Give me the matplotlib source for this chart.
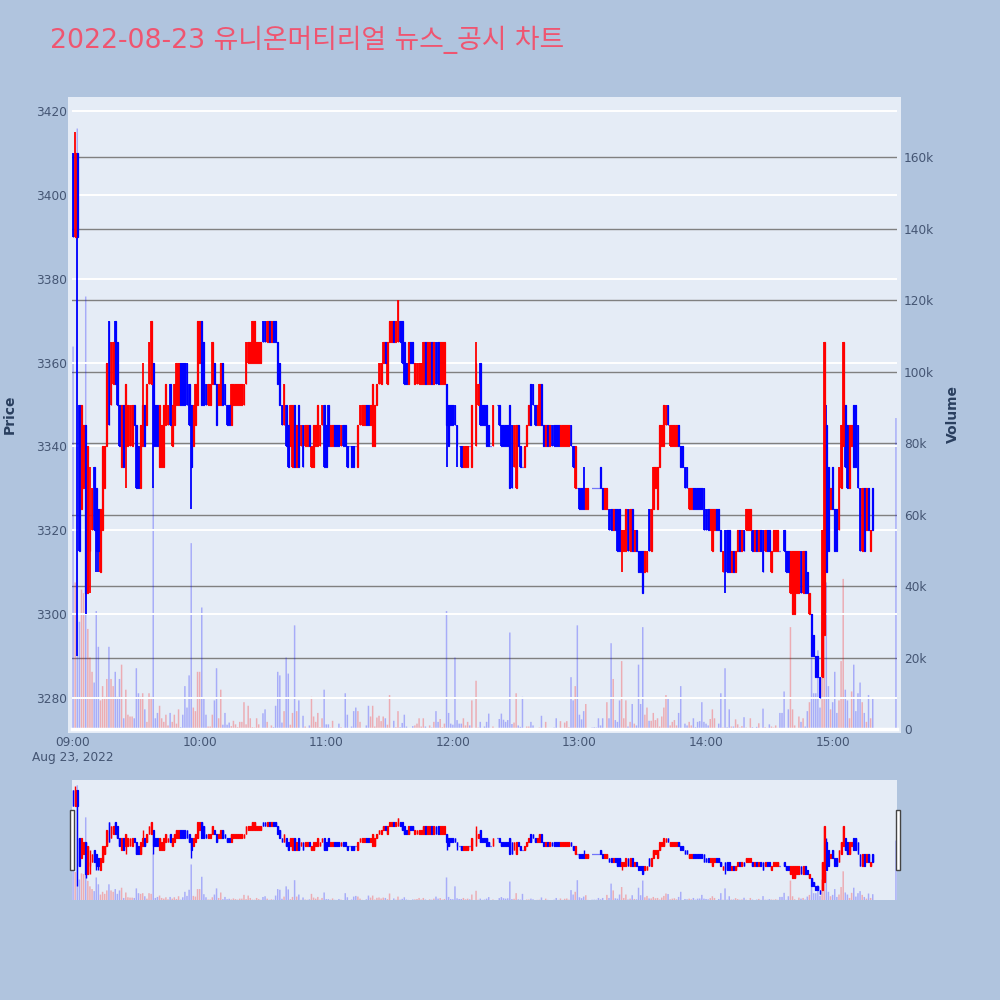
from matplotlib.patches import Rectangle
import matplotlib.pyplot as plt
import numpy as np

plt.rcParams['font.family'] = ['DejaVu Sans', 'Noto Sans CJK KR']

# one candle per minute from 09:00
opens = [
    3410, 3390, 3410, 3350, 3325, 3330, 3345, 3305, 3315, 3320,
    3335, 3330, 3325, 3310, 3320, 3330, 3340, 3370, 3350, 3355,
    3370, 3365, 3350, 3335, 3350, 3340, 3340, 3340, 3340, 3350,
    3345, 3340, 3330, 3340, 3350, 3345, 3355, 3355, 3360, 3350,
    3350, 3335, 3335, 3335, 3345, 3345, 3355, 3340, 3345, 3350,
    3350, 3360, 3360, 3360, 3360, 3355, 3350, 3340, 3345, 3350,
    3360, 3370, 3365, 3355, 3350, 3350, 3355, 3360, 3355, 3350,
    3350, 3360, 3355, 3350, 3350, 3345, 3350, 3350, 3350, 3350,
    3350, 3350, 3355, 3360, 3360, 3360, 3360, 3360, 3360, 3360,
    3370, 3370, 3365, 3370, 3365, 3370, 3370, 3365, 3360, 3350,
    3345, 3350, 3345, 3340, 3335, 3350, 3335, 3350, 3340, 3345,
    3340, 3340, 3345, 3335, 3335, 3340, 3340, 3340, 3345, 3350,
    3345, 3350, 3340, 3340, 3345, 3345, 3345, 3340, 3345, 3345,
    3340, 3340, 3340, 3340, 3340, 3335, 3345, 3345, 3345, 3350,
    3350, 3345, 3340, 3340, 3350, 3355, 3355, 3360, 3365, 3355,
    3365, 3365, 3370, 3365, 3365, 3370, 3370, 3365, 3360, 3355,
    3365, 3365, 3355, 3355, 3355, 3355, 3355, 3365, 3355, 3355,
    3365, 3355, 3365, 3365, 3355, 3355, 3355, 3355, 3350, 3350, 3350,
    3350, 3345, 3340, 3340, 3335, 3335, 3335, 3340, 3335, 3345,
    3340, 3350, 3360, 3350, 3350, 3350, 3345, 3340, 3340, 3350,
    3350, 3350, 3345, 3345, 3345, 3345, 3350, 3345, 3335, 3330,
    3345, 3340, 3335, 3335, 3340, 3345, 3355, 3355, 3350, 3345,
    3345, 3355, 3345, 3340, 3345, 3340, 3345, 3345, 3345, 3345,
    3340, 3340, 3340, 3340, 3340, 3345, 3340, 3330, 3330, 3330,
    3330, 3330, 3325, 3325, 3335, 3330, 3330, 3330, 3330,
    3335, 3330, 3325, 3325, 3325, 3325, 3320, 3325, 3325, 3325,
    3315, 3315, 3315, 3325, 3315, 3325, 3315, 3320, 3315, 3315,
    3315, 3310, 3310, 3325, 3315, 3325, 3330, 3325, 3335, 3340,
    3340, 3345, 3350, 3340, 3340, 3340, 3340, 3345, 3340, 3340, 3335,
    3335, 3325, 3325, 3330, 3330, 3330, 3330, 3330, 3330, 3325,
    3325, 3320, 3315, 3320, 3325, 3325, 3320, 3310, 3320, 3320,
    3320, 3310, 3315, 3310, 3315, 3320, 3315, 3320, 3320, 3320,
    3320, 3320, 3315, 3320, 3315, 3320, 3320, 3315, 3320, 3320,
    3310, 3315, 3315, 3315, 3315, 3315, 3320, 3315, 3315, 3305,
    3300, 3300, 3305, 3305, 3315, 3305, 3315, 3310, 3300, 3300,
    3295, 3290, 3290, 3285, 3285, 3295, 3345, 3335, 3325, 3335,
    3325, 3325, 3320, 3330, 3340, 3350, 3345, 3330, 3340, 3350,
    3350, 3345, 3330, 3315, 3330, 3320, 3330, 3315, 3330,
]
closes = [
    3390, 3410, 3390, 3315, 3350, 3345, 3305, 3340, 3320, 3330,
    3320, 3315, 3315, 3325, 3340, 3340, 3360, 3345, 3365, 3365,
    3355, 3350, 3340, 3350, 3335, 3355, 3350, 3350, 3350, 3345,
    3330, 3330, 3345, 3350, 3340, 3355, 3365, 3370, 3340, 3340,
    3340, 3350, 3345, 3350, 3355, 3350, 3345, 3350, 3355, 3360,
    3360, 3350, 3350, 3350, 3350, 3345, 3335, 3350, 3355, 3370,
    3370, 3350, 3350, 3350, 3355, 3355, 3365, 3355, 3345, 3355,
    3360, 3350, 3350, 3345, 3345, 3355, 3355, 3355, 3355, 3355,
    3355, 3355, 3365, 3365, 3365, 3370, 3370, 3365, 3365, 3365,
    3365, 3365, 3370, 3365, 3370, 3365, 3365, 3355, 3350, 3345,
    3355, 3340, 3335, 3350, 3350, 3335, 3345, 3335, 3345, 3335,
    3345, 3345, 3340, 3340, 3345, 3345, 3350, 3345, 3350, 3335,
    3335, 3340, 3345, 3345, 3340, 3340, 3340, 3345, 3340, 3340,
    3335, 3340, 3335, 3335, 3340, 3345, 3350, 3350, 3350, 3345,
    3345, 3350, 3355, 3350, 3355, 3360, 3360, 3365, 3360, 3365,
    3370, 3370, 3365, 3370, 3375, 3365, 3360, 3355, 3355, 3365,
    3360, 3360, 3360, 3360, 3360, 3360, 3365, 3355, 3365, 3365,
    3355, 3365, 3355, 3355, 3365, 3365, 3365, 3345, 3340, 3345, 3345,
    3345, 3340, 3340, 3335, 3340, 3340, 3340, 3340, 3350, 3345,
    3360, 3355, 3345, 3345, 3345, 3340, 3340, 3340, 3350, 3350,
    3350, 3345, 3340, 3340, 3340, 3340, 3330, 3330, 3345, 3345,
    3340, 3335, 3335, 3340, 3345, 3350, 3345, 3350, 3345, 3350,
    3355, 3345, 3340, 3345, 3340, 3345, 3340, 3340, 3340, 3340,
    3345, 3345, 3345, 3345, 3345, 3340, 3335, 3340, 3330, 3325,
    3325, 3325, 3330, 3330, 3335, 3330, 3330, 3330, 3330,
    3330, 3325, 3330, 3330, 3320, 3320, 3325, 3320, 3315, 3315,
    3320, 3320, 3325, 3315, 3325, 3315, 3320, 3315, 3310, 3310,
    3305, 3315, 3315, 3315, 3325, 3335, 3335, 3335, 3345, 3345,
    3350, 3350, 3345, 3345, 3345, 3345, 3345, 3340, 3335, 3335, 3330,
    3330, 3330, 3330, 3325, 3325, 3325, 3325, 3325, 3320, 3320,
    3320, 3325, 3325, 3325, 3320, 3320, 3315, 3315, 3310, 3310,
    3310, 3315, 3310, 3315, 3320, 3315, 3320, 3315, 3325, 3325,
    3325, 3315, 3320, 3315, 3320, 3315, 3310, 3320, 3315, 3315,
    3315, 3320, 3320, 3320, 3315, 3315, 3315, 3310, 3310, 3315,
    3315, 3315, 3315, 3315, 3305, 3315, 3305, 3305, 3305, 3290,
    3290, 3285, 3285, 3280, 3320, 3365, 3310, 3315, 3330, 3325,
    3315, 3315, 3335, 3345, 3365, 3335, 3330, 3345, 3345, 3335,
    3335, 3330, 3315, 3330, 3315, 3330, 3320, 3320, 3320,
]
# wicks, where they reach past the body
high_minutes = [1, 8, 33, 191, 242, 245, 357, 275]
high_prices = [3415, 3335, 3360, 3365, 3335, 3335, 3350, 3335]
low_minutes = [2, 6, 8, 11, 12, 25, 38, 56, 177, 182, 260, 309]
low_prices = [3290, 3300, 3305, 3310, 3310, 3330, 3330, 3325, 3335, 3335, 3310, 3305]

# traded volume in thousands, one value per minute
volumes = [
    107, 41, 168, 30, 39, 38, 121, 28, 20, 16, 13, 33, 23, 8, 12, 9, 14, 23, 14, 12,
    16, 9, 14, 18, 3, 11, 4, 3.5, 3.5, 3, 17, 10, 9, 10, 5.5, 2, 10, 9, 68, 3,
    4.5, 6.5, 3, 2, 4, 1, 4.5, 2, 4, 1.5, 5.5, 0.5, 4, 12, 6, 15, 52, 6, 5, 16,
    16, 34, 8.5, 4, 0.7, 0.7, 4, 8, 17, 3, 11, 1.2, 4.5, 1.2, 1.8, 0.8, 2.3, 1.3, 0.5, 2,
    2, 7.5, 1.3, 6.5, 3, 0.5, 0.4, 3, 1.3, 0.3, 4.4, 5.5, 2, 0.3, 1, 0.5, 6.5, 16, 15, 1.8,
    5, 20, 15.5, 1.2, 4.5, 29, 5, 8, 0.3, 3.7, 0.7, 0.3, 1, 9, 3.5, 2, 4.5, 0.5, 3, 11,
    1.3, 1.3, 0.4, 2.3, 0.3, 0.1, 1.5, 0.5, 0, 10, 4, 0, 0.7, 5, 6, 5, 2, 0.2, 0, 1,
    6.5, 3.5, 6.5, 0.7, 3.2, 3.7, 2.2, 3.5, 3, 1.2, 9.5, 0, 2.3, 0.5, 5, 0.5, 1.7, 4, 0.7, 0.2,
    0, 0.8, 1, 1.5, 3, 0.7, 3, 0.7, 0, 1, 0.4, 2, 5, 2, 2.8, 0.5, 1.5, 33, 4.5, 1.5, 1.2,
    20, 2.5, 1.5, 1.5, 3, 1, 2, 1, 8, 0, 13.5, 0.4, 2, 0.2, 0.7, 2, 4.3, 0, 0.7, 0,
    0, 2.8, 4.3, 2.6, 2, 2.5, 27, 1.4, 1.8, 10, 1, 0.6, 9, 0, 0.7, 0.7, 2, 1, 0, 0.2,
    0.4, 3.7, 0, 2, 0.2, 0, 0, 0.4, 3, 0.2, 2.2, 0.2, 1.8, 2.2, 0.5, 14.5, 8, 12, 29, 4,
    2.7, 5, 7, 0.2, 0, 0.4, 0.5, 0.4, 3, 1, 3, 0, 7.5, 3, 24, 14, 2.5, 2, 8, 19,
    3, 8, 0.7, 2, 7, 1.5, 1, 18, 7, 28.5, 4, 6, 2.3, 2.3, 4.5, 2.5, 3, 0.7, 3.5, 6, 9.5,
    8.7, 1, 2, 2.5, 1, 4.5, 12, 0, 1.5, 1, 2, 1, 3, 0.5, 2, 2.2, 7.5, 2, 1.5, 1,
    2.8, 5.5, 3, 0, 1.5, 10, 0.4, 17, 0.5, 5.5, 0.7, 0.7, 2.7, 1.3, 0.4, 0.8, 3.3, 0.4, 0, 3,
    0.5, 0, 0.6, 1.6, 0.2, 5.7, 0.5, 0.3, 1.3, 0.7, 0.4, 1, 0.3, 4.5, 4.5, 10.5, 0.3, 5.5, 28.5, 5.5,
    1, 0, 3.5, 2, 3, 0.7, 5, 7.5, 20, 10, 10, 22, 6, 30, 28, 41, 12, 5.5, 7.5, 16,
    4.5, 8, 19, 42, 11, 8, 3, 10.5, 18, 5, 10, 13, 7.5, 4.5, 2, 9.5, 3, 8.5,
]
# the lone closing auction print
last_minute = 390
last_price = 3300
last_volume = 87

tick_minutes = [0, 60, 120, 180, 240, 300, 360]
tick_labels = ["09:00", "10:00", "11:00", "12:00", "13:00", "14:00", "15:00"]
price_ticks = [3280, 3300, 3320, 3340, 3360, 3380, 3400, 3420]
volume_ticks = [0, 20, 40, 60, 80, 100, 120, 140, 160]
volume_labels = ["0", "20k", "40k", "60k", "80k", "100k", "120k", "140k", "160k"]
title = "2022-08-23 유니온머티리얼 뉴스_공시 차트"

TEXT = "#445573"
DARK = "#2a3f5f"


def px_rect(x0, y0, x1, y1):
    # pixel box (y down) to figure fractions
    return [x0 / 1000, 1 - y1 / 1000, (x1 - x0) / 1000, (y1 - y0) / 1000]


def draw_candles(ax, body_lw, wick_lw):
    o = np.array(opens + [last_price], dtype=float)
    c = np.array(closes + [last_price], dtype=float)
    m = np.array(list(range(len(opens))) + [last_minute])
    hi = np.maximum(o, c)
    lo = np.minimum(o, c)
    hi[high_minutes] = high_prices
    lo[low_minutes] = low_prices
    colors = np.where(c > o, "#ff0000", "#0000ff")
    ax.vlines(m, lo, hi, colors=colors, lw=wick_lw, zorder=3)
    ax.bar(m, c - o, bottom=o, width=0.4, color=colors, edgecolor=colors,
           linewidth=body_lw, zorder=4)


def draw_volumes(ax):
    n = len(volumes)
    m = list(range(n)) + [last_minute]
    v = volumes + [last_volume]
    colors = []
    for i in range(n):
        if i < len(opens) and closes[i] > opens[i]:
            colors.append("#ff0000")
        else:
            colors.append("#0000ff")
    colors.append("#0000ff")
    bars = ax.bar(m, v, width=0.7, color=colors, alpha=0.27, linewidth=0, zorder=2)
    for b in bars:
        b.set_snap(False)


fig = plt.figure(figsize=(10, 10), dpi=100, facecolor="#b0c4de")

# pale panel reaches a little past the plot area
fig.add_artist(Rectangle((0.068, 1 - 0.733), 0.833, 0.636, transform=fig.transFigure,
                         facecolor="#e5ecf6", edgecolor="none", zorder=-1))

ax = fig.add_axes(px_rect(72, 101, 897, 729))
ax.patch.set_alpha(0)
ax.set_xlim(-0.5, 390.5)
ax.set_ylim(3272.6, 3422.4)
ax.set_yticks(price_ticks)
ax.grid(axis="y", color="white", lw=1.4, zorder=1)
ax.set_axisbelow(True)
ax.set_xticks(tick_minutes)
ax.set_xticklabels(tick_labels)
ax.tick_params(length=0, labelsize=8.7, labelcolor=TEXT)
ax.tick_params(axis="x", pad=5)
ax.tick_params(axis="y", pad=3.5)
for s in ax.spines.values():
    s.set_visible(False)
ax.set_zorder(2)

vol = fig.add_axes(px_rect(72, 101, 897, 729), sharex=ax)
vol.patch.set_alpha(0)
vol.set_ylim(0, 175.7)
vol.yaxis.tick_right()
vol.set_yticks(volume_ticks)
vol.set_yticklabels(volume_labels)
vol.grid(axis="y", color="#808080", lw=1.0)
vol.set_axisbelow(True)
vol.tick_params(length=0, labelsize=8.7, labelcolor=TEXT, pad=5)
vol.tick_params(axis="x", labelbottom=False)
for s in vol.spines.values():
    s.set_visible(False)
vol.set_zorder(1)
draw_volumes(vol)
draw_candles(ax, 0.9, 1.3)
ax.axhline(3272.6, color="white", lw=2.5, zorder=1, clip_on=False)

fig.text(0.05, 0.96, title, color="#ef5570", fontsize=19.3, va="center", ha="left")
fig.text(0.032, 0.242, "Aug 23, 2022", color=TEXT, fontsize=8.7, va="center", ha="left")
fig.text(0.0095, 0.586, "Price", color=DARK, fontsize=10, fontweight="bold",
         rotation=90, va="center", ha="center")
fig.text(0.953, 0.586, "Volume", color=DARK, fontsize=10, fontweight="bold",
         rotation=90, va="center", ha="center")

# range slider strip
pv = fig.add_axes(px_rect(72, 780, 897, 900), facecolor="#e5ecf6")
pv.set_xlim(-0.5, 390.5)
pv.set_ylim(0, 175.7)
pv.set_xticks([])
pv.set_yticks([])
for s in pv.spines.values():
    s.set_visible(False)
draw_volumes(pv)
pp = fig.add_axes(px_rect(72, 780, 897, 900))
pp.patch.set_alpha(0)
pp.set_xlim(-0.5, 390.5)
pp.set_ylim(3272.6, 3422.4)
pp.axis("off")
draw_candles(pp, 0.9, 1.0)

for hx in (69.5, 895.5):
    fig.add_artist(Rectangle((hx / 1000, 1 - 0.870), 0.0045, 0.060, transform=fig.transFigure,
                             facecolor="white", edgecolor="#444444", lw=1.0, zorder=10))

fig.savefig("out.png", dpi=100, facecolor=fig.get_facecolor())
